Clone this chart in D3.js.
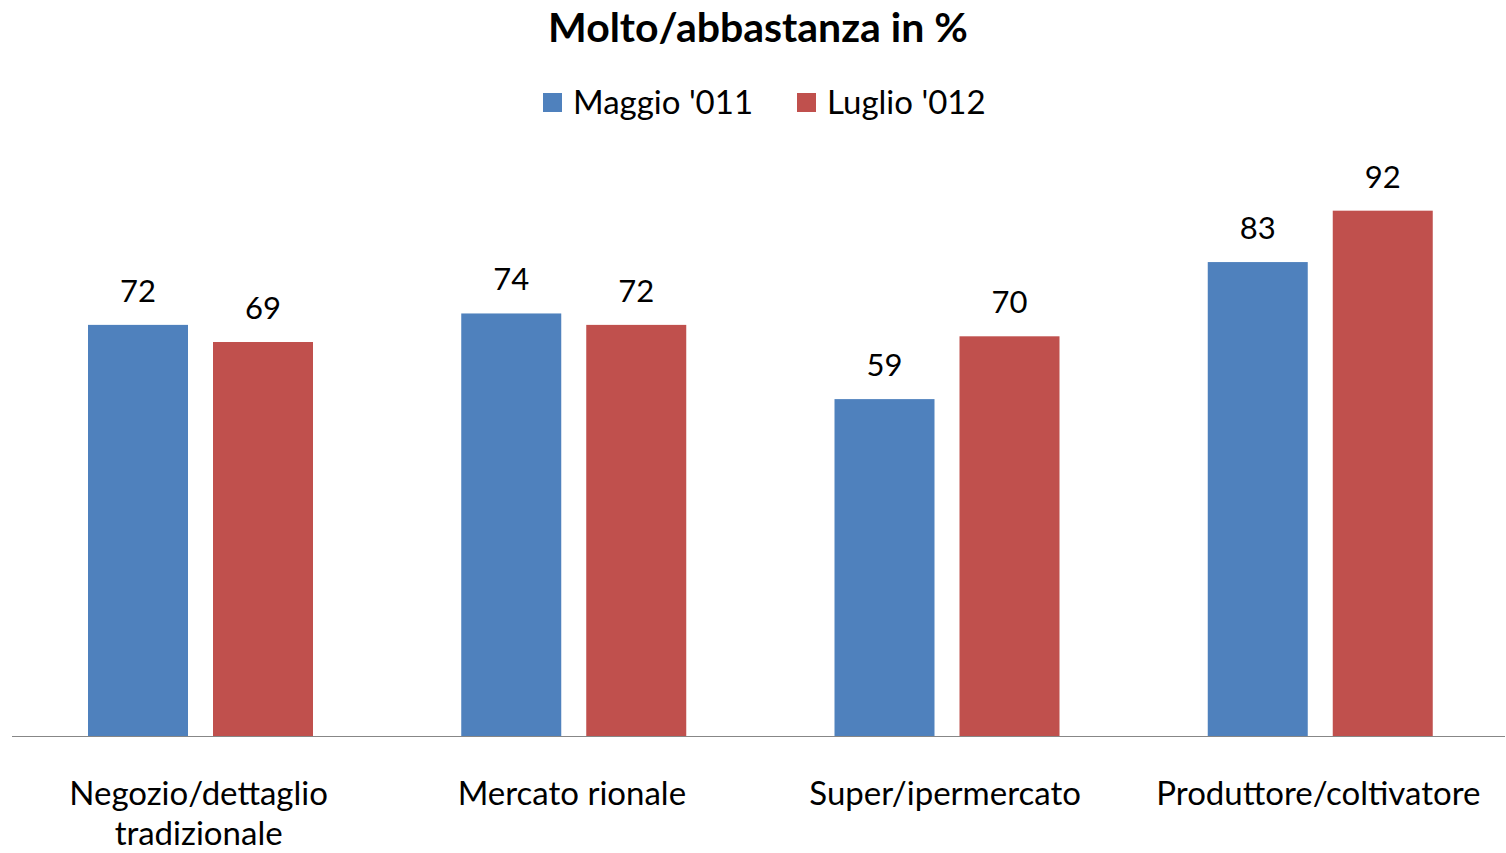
<html>
<script src='https://d3js.org/d3.v7.min.js'></script>
<style>
  body {margin: 0; background: white;}
  text {font-family: Lato, "Open Sans", sans-serif; fill: black;}
</style>
<body>
<svg id="chart" width=1506 height=853></svg>
<script>
  // data
  var categories = [["Negozio/dettaglio", "tradizionale"], ["Mercato rionale"], ["Super/ipermercato"], ["Produttore/coltivatore"]];
  var seriesNames = ["Maggio '011", "Luglio '012"];
  var maggio = [72, 74, 59, 83];
  var luglio = [69, 72, 70, 92];
  var colors = ["#4f81bd", "#c0504d"];

  var svg = d3.select("#chart");
  var x0 = d3.scaleBand().domain(d3.range(categories.length)).range([12, 1505]);
  var x1 = d3.scaleBand().domain([0, 1]).range([76, 301]).paddingInner(0.2);
  var y = d3.scaleLinear().domain([0, 100]).range([736, 165]);

  var rows = categories.map(function(c, i) { return [maggio[i], luglio[i]]; });

  var g = svg.selectAll("g.cat").data(rows).enter().append("g")
    .attr("class", "cat")
    .attr("transform", function(d, i) { return "translate(" + x0(i) + ",0)"; });

  g.selectAll("rect").data(function(d) { return d; }).enter().append("rect")
    .attr("x", function(d, j) { return x1(j); })
    .attr("y", function(d) { return y(d); })
    .attr("width", x1.bandwidth())
    .attr("height", function(d) { return y(0) - y(d); })
    .attr("fill", function(d, j) { return colors[j]; });

  g.selectAll("text.val").data(function(d) { return d; }).enter().append("text")
    .attr("class", "val")
    .attr("x", function(d, j) { return x1(j) + x1.bandwidth() / 2; })
    .attr("y", function(d) { return y(d) - 23; })
    .attr("text-anchor", "middle")
    .style("font-size", "31px")
    .text(function(d) { return d; });

  // baseline
  svg.append("line")
    .attr("x1", 12).attr("x2", 1505)
    .attr("y1", y(0) + 0.5).attr("y2", y(0) + 0.5)
    .style("stroke", "#878787").style("stroke-width", 1.2);

  // category labels
  svg.selectAll("text.cat").data(categories).enter().append("text")
    .attr("class", "cat")
    .attr("text-anchor", "middle")
    .attr("x", function(d, i) { return x0(i) + x0.bandwidth() / 2; })
    .attr("y", 805)
    .style("font-size", "33px")
    .selectAll("tspan").data(function(d) { return d; }).enter().append("tspan")
    .attr("x", function() { return this.parentNode.getAttribute("x"); })
    .attr("dy", function(d, k) { return k == 0 ? 0 : 40; })
    .text(function(d) { return d; });

  // title
  svg.append("text")
    .attr("x", 758).attr("y", 42)
    .attr("text-anchor", "middle")
    .style("font-size", "41px").style("font-weight", "bold")
    .text("Molto/abbastanza in %");

  // legend
  var legX = [543, 797];
  var leg = svg.selectAll("g.leg").data(seriesNames).enter().append("g")
    .attr("class", "leg")
    .attr("transform", function(d, i) { return "translate(" + legX[i] + ",93)"; });
  leg.append("rect").attr("width", 19).attr("height", 19)
    .attr("fill", function(d, i) { return colors[i]; });
  leg.append("text").attr("x", 30).attr("y", 21)
    .style("font-size", "33px")
    .text(function(d) { return d; });
</script>
</body>
</html>
